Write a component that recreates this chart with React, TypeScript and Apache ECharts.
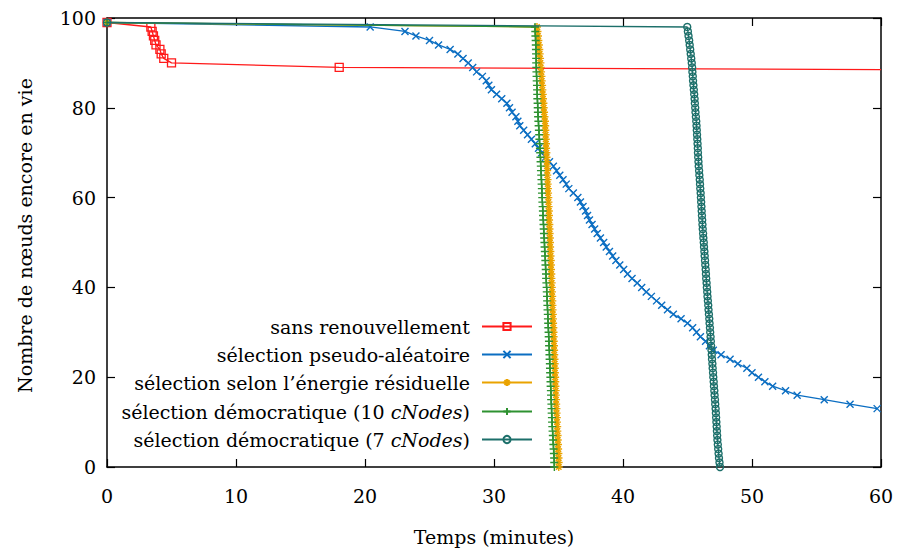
import React, { useEffect, useRef } from "react";
import * as echarts from "echarts";

// ---------- data ----------
const seriesNames = [
  "sans renouvellement",
  "sélection pseudo-aléatoire",
  "sélection selon l’énergie résiduelle",
  "sélection démocratique (10 cNodes)",
  "sélection démocratique (7 cNodes)",
];

// red: time (minutes) / nodes alive
const redTimes = [0, 3.4, 3.5, 3.6, 3.7, 3.8, 4.1, 4.2, 4.4, 5.0, 18.0, 60];
const redAlive = [99, 98, 97, 96, 95, 94, 93, 92, 91, 90, 89, 88.5];

// blue: nodes alive 99 .. 13
const blueAlive = [
  99, 98, 97, 96, 95, 94, 93, 92, 91, 90,
  89, 88, 87, 86, 85, 84, 83, 82, 81, 80,
  79, 78, 77, 76, 75, 74, 73, 72, 71, 70,
  69, 68, 67, 66, 65, 64, 63, 62, 61, 60,
  59, 58, 57, 56, 55, 54, 53, 52, 51, 50,
  49, 48, 47, 46, 45, 44, 43, 42, 41, 40,
  39, 38, 37, 36, 35, 34, 33, 32, 31, 30,
  29, 28, 27, 26, 25, 24, 23, 22, 21, 20,
  19, 18, 17, 16, 15, 14, 13,
];
const blueTimes = [
  0, 20.4, 23.1, 23.95, 25.0, 25.7, 26.6, 27.2, 27.6, 28.0,
  28.35, 28.65, 29.1, 29.4, 29.6, 29.8, 30.2, 30.6, 31.0, 31.2,
  31.4, 31.7, 31.85, 32.0, 32.3, 32.6, 32.9, 33.2, 33.45, 33.7,
  34.0, 34.3, 34.6, 34.85, 35.1, 35.35, 35.6, 35.8, 36.15, 36.5,
  36.7, 36.9, 37.1, 37.25, 37.4, 37.6, 37.8, 38.0, 38.25, 38.5,
  38.7, 38.95, 39.2, 39.45, 39.75, 40.05, 40.35, 40.7, 41.1, 41.45,
  41.8, 42.2, 42.6, 43.0, 43.45, 43.9, 44.5, 45.0, 45.4, 45.7,
  46.0, 46.4, 46.7, 47.0, 47.6, 48.3, 48.9, 49.6, 50.0, 50.5,
  51.0, 51.6, 52.6, 53.5, 55.6, 57.6, 59.7,
];

// steep series: nodes alive 99 .. 0
const steepAlive = [
  99, 98, 97, 96, 95, 94, 93, 92, 91, 90,
  89, 88, 87, 86, 85, 84, 83, 82, 81, 80,
  79, 78, 77, 76, 75, 74, 73, 72, 71, 70,
  69, 68, 67, 66, 65, 64, 63, 62, 61, 60,
  59, 58, 57, 56, 55, 54, 53, 52, 51, 50,
  49, 48, 47, 46, 45, 44, 43, 42, 41, 40,
  39, 38, 37, 36, 35, 34, 33, 32, 31, 30,
  29, 28, 27, 26, 25, 24, 23, 22, 21, 20,
  19, 18, 17, 16, 15, 14, 13, 12, 11, 10,
  9, 8, 7, 6, 5, 4, 3, 2, 1, 0,
];
const orangeTimes = [
  0, 33.33, 33.37, 33.41, 33.44, 33.48, 33.51, 33.54, 33.57, 33.60,
  33.62, 33.65, 33.68, 33.70, 33.73, 33.75, 33.78, 33.80, 33.83, 33.85,
  33.88, 33.91, 33.95, 33.97, 33.98, 34.00, 34.01, 34.03, 34.04, 34.06,
  34.07, 34.09, 34.10, 34.12, 34.13, 34.15, 34.16, 34.18, 34.19, 34.21,
  34.22, 34.23, 34.25, 34.26, 34.27, 34.29, 34.30, 34.31, 34.33, 34.34,
  34.35, 34.37, 34.38, 34.40, 34.41, 34.42, 34.44, 34.45, 34.47, 34.48,
  34.49, 34.51, 34.52, 34.53, 34.54, 34.56, 34.57, 34.58, 34.60, 34.61,
  34.62, 34.63, 34.65, 34.66, 34.67, 34.69, 34.70, 34.71, 34.72, 34.74,
  34.75, 34.76, 34.78, 34.79, 34.81, 34.82, 34.84, 34.85, 34.87, 34.88,
  34.90, 34.91, 34.93, 34.94, 34.96, 34.97, 34.99, 35.00, 35.01, 35.02,
];
const greenTimes = [
  0, 33.18, 33.20, 33.21, 33.23, 33.24, 33.25, 33.26, 33.27, 33.27,
  33.28, 33.29, 33.30, 33.31, 33.33, 33.34, 33.35, 33.36, 33.38, 33.39,
  33.40, 33.42, 33.44, 33.46, 33.48, 33.50, 33.52, 33.54, 33.56, 33.58,
  33.60, 33.61, 33.63, 33.64, 33.66, 33.68, 33.69, 33.71, 33.72, 33.74,
  33.75, 33.77, 33.79, 33.80, 33.82, 33.84, 33.85, 33.87, 33.89, 33.91,
  33.92, 33.94, 33.96, 33.98, 33.99, 34.01, 34.03, 34.04, 34.06, 34.08,
  34.09, 34.11, 34.12, 34.14, 34.15, 34.17, 34.18, 34.20, 34.21, 34.23,
  34.24, 34.26, 34.27, 34.29, 34.30, 34.31, 34.33, 34.34, 34.35, 34.37,
  34.38, 34.39, 34.41, 34.42, 34.43, 34.45, 34.46, 34.47, 34.49, 34.50,
  34.52, 34.54, 34.56, 34.58, 34.60, 34.62, 34.64, 34.66, 34.67, 34.68,
];
const tealTimes = [
  0, 44.98, 45.03, 45.08, 45.13, 45.17, 45.21, 45.25, 45.29, 45.33,
  45.36, 45.38, 45.41, 45.43, 45.46, 45.49, 45.52, 45.55, 45.57, 45.60,
  45.62, 45.65, 45.68, 45.70, 45.72, 45.74, 45.76, 45.78, 45.80, 45.81,
  45.83, 45.85, 45.87, 45.90, 45.92, 45.95, 45.97, 45.99, 46.02, 46.04,
  46.06, 46.08, 46.10, 46.12, 46.14, 46.16, 46.18, 46.21, 46.23, 46.26,
  46.28, 46.31, 46.33, 46.36, 46.38, 46.41, 46.43, 46.45, 46.48, 46.50,
  46.53, 46.55, 46.58, 46.61, 46.63, 46.66, 46.69, 46.71, 46.74, 46.76,
  46.79, 46.81, 46.83, 46.86, 46.88, 46.90, 46.93, 46.95, 46.98, 47.00,
  47.03, 47.05, 47.08, 47.10, 47.13, 47.15, 47.18, 47.20, 47.22, 47.24,
  47.26, 47.28, 47.30, 47.32, 47.35, 47.38, 47.41, 47.44, 47.48, 47.52,
];

const xTitle = "Temps (minutes)";
const yTitle = "Nombre de nœuds encore en vie";

// ---------- styles ----------
const FONT = "DejaVu Serif";
const FS = 19;
const colors = ["#ff1a1a", "#0b6ec2", "#eaa300", "#2e9231", "#1c6f6a"];
const SYM_X = "path://M0,0L10,10M10,0L0,10";
const SYM_STAR = "path://M0,5L10,5M5,0L5,10M1.6,1.6L8.4,8.4M8.4,1.6L1.6,8.4";
const SYM_PLUS = "path://M0,5L10,5M5,0L5,10";

function pairs(times: number[], alive: number[]) {
  const n = Math.min(times.length, alive.length);
  const out: any[] = [];
  for (let i = 0; i < n; i++) out.push([times[i], alive[i]]);
  return out;
}

export default function App() {
  const ref = useRef<HTMLDivElement>(null);
  useEffect(() => {
    if (!ref.current) return;
    const chart = echarts.init(ref.current, null, { renderer: "svg" });

    const redData: any[] = pairs(redTimes, redAlive);
    redData[redData.length - 1] = { value: redData[redData.length - 1], symbol: "none" };

    const mk = (i: number, data: any[], symbol: string, size: number, bw: number) => ({
      name: seriesNames[i],
      type: "line",
      data,
      xAxisIndex: 0,
      yAxisIndex: 0,
      symbol,
      symbolSize: size,
      showSymbol: true,
      clip: true,
      lineStyle: { color: colors[i], width: 1.3 },
      itemStyle: { color: "rgba(0,0,0,0)", borderColor: colors[i], borderWidth: bw },
      emphasis: { disabled: true },
      z: 2 + i,
    });

    const series = [
      mk(0, redData, "rect", 8, 1.3),
      mk(1, pairs(blueTimes, blueAlive), SYM_X, 7, 1.4),
      mk(2, pairs(orangeTimes, steepAlive), SYM_STAR, 8, 1.4),
      mk(3, pairs(greenTimes, steepAlive), SYM_PLUS, 8, 1.4),
      mk(4, pairs(tealTimes, steepAlive), "circle", 7, 1.4),
    ];

    const rowCenters = [328, 356, 384, 413, 441];
    const legends = seriesNames.map((n, i) => ({
      data: [n],
      orient: "horizontal",
      align: "right",
      right: 367,
      top: rowCenters[i] - 11,
      padding: 0,
      itemWidth: 50,
      itemHeight: 9,
      selectedMode: false,
      formatter: (name: string) => {
        const idx = name.indexOf("cNodes");
        if (idx < 0) return "{n|" + name + "}";
        return "{n|" + name.slice(0, idx) + "}{i|cNodes}{n|" + name.slice(idx + 6) + "}";
      },
      textStyle: {
        color: "#000",
        fontFamily: FONT,
        fontSize: FS,
        padding: [0, 7, 0, 0],
        rich: {
          n: { color: "#000", fontFamily: FONT, fontSize: FS },
          i: { color: "#000", fontFamily: FONT, fontSize: FS, fontStyle: "italic" },
        },
      },
    }));

    const axisBase = {
      type: "value",
      axisLine: { show: true, onZero: false, lineStyle: { color: "#000", width: 1.5 } },
      axisTick: { show: true, inside: true, length: 8, lineStyle: { color: "#000", width: 1.2 } },
      splitLine: { show: false },
    };

    chart.setOption({
      animation: false,
      backgroundColor: "#fff",
      textStyle: { fontFamily: FONT },
      grid: { left: 107, right: 19, top: 18, bottom: 87, show: false },
      legend: legends,
      xAxis: [
        {
          ...axisBase,
          position: "bottom",
          min: 0,
          max: 60,
          interval: 10,
          name: xTitle,
          nameLocation: "middle",
          nameGap: 60,
          nameTextStyle: { color: "#000", fontFamily: FONT, fontSize: FS },
          axisLabel: { color: "#000", fontFamily: FONT, fontSize: FS, margin: 19 },
        },
        {
          ...axisBase,
          position: "top",
          min: 0,
          max: 60,
          interval: 10,
          axisLabel: { show: false },
        },
      ],
      yAxis: [
        {
          ...axisBase,
          position: "left",
          min: 0,
          max: 100,
          interval: 20,
          name: yTitle,
          nameLocation: "middle",
          nameGap: 73,
          nameTextStyle: {
            color: "#000",
            fontFamily: FONT,
            fontSize: FS,
            padding: [0, 0, 0, 14],
          },
          axisLabel: { color: "#000", fontFamily: FONT, fontSize: FS, margin: 11 },
        },
        {
          ...axisBase,
          position: "right",
          min: 0,
          max: 100,
          interval: 20,
          axisLabel: { show: false },
        },
      ],
      series,
    });

    return () => chart.dispose();
  }, []);

  return (
    <div
      ref={ref}
      style={{ position: "absolute", left: 0, top: 0, width: 900, height: 554 }}
    />
  );
}
